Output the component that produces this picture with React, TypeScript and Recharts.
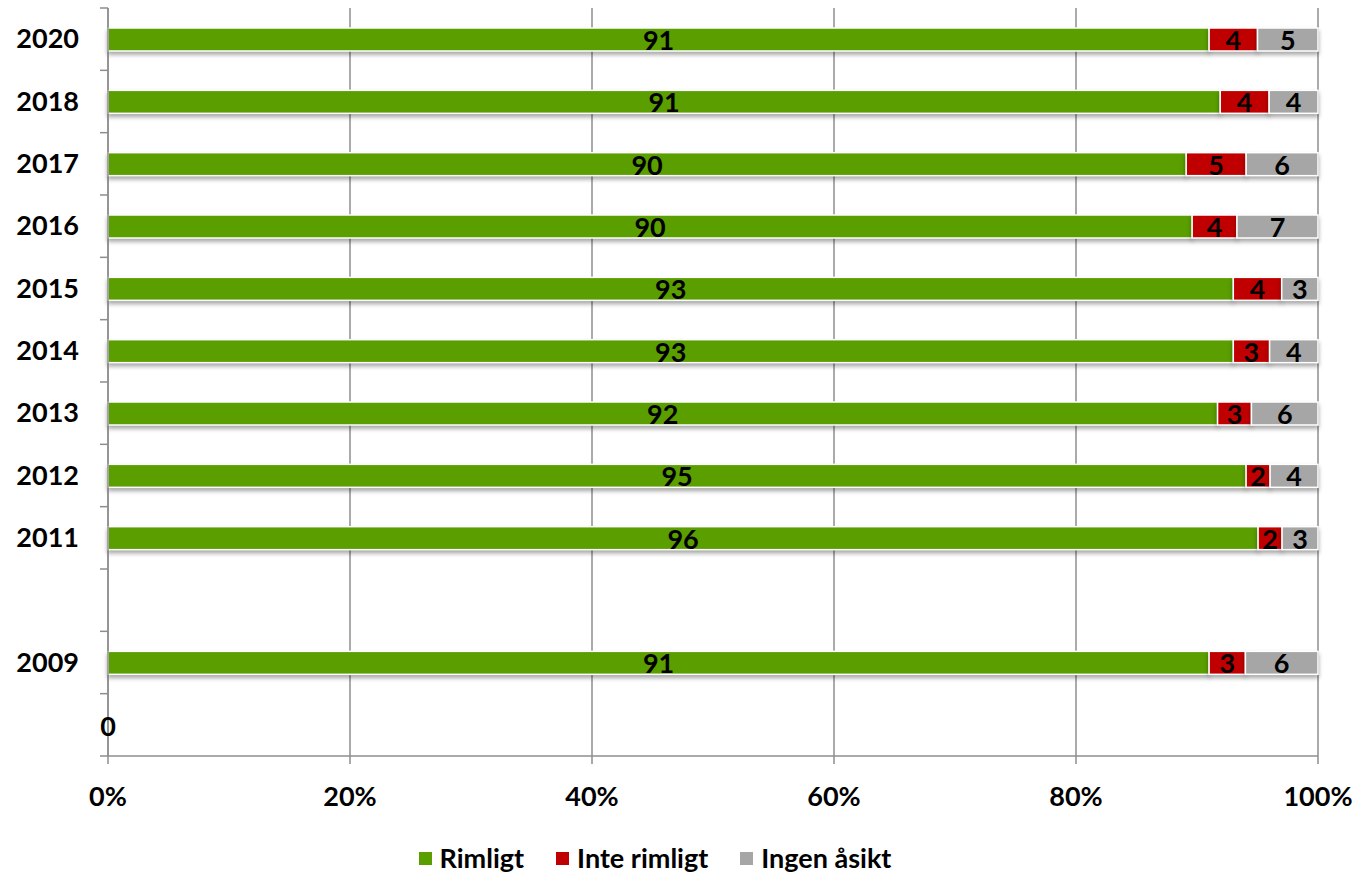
import React from 'react';
import { BarChart, Bar, XAxis, YAxis, CartesianGrid, Legend, LabelList } from 'recharts';

// survey years, top to bottom (blank rows have no data)
const years = ['2020', '2018', '2017', '2016', '2015', '2014', '2013', '2012', '2011', '', '2009', ' '];
const rimligt = [91, 91, 90, 89.6, 93, 93, 91.7, 95, 96, null, 91, 0];
const inteRimligt = [4, 4, 5, 3.7, 4, 3, 2.8, 2, 2, null, 3, null];
const ingenAsikt = [5, 4, 6, 6.7, 3, 4, 5.5, 4, 3, null, 6, null];
const xTicks = [0, 0.2, 0.4, 0.6, 0.8, 1];

const data = years.map((year, i) => ({
  year,
  rimligt: rimligt[i],
  inteRimligt: inteRimligt[i],
  ingenAsikt: ingenAsikt[i],
}));

const FONT = 'Lato, "Open Sans", sans-serif';
const GRAY_LINE = '#8e8e8e';

const series = [
  { key: 'rimligt', name: 'Rimligt', color: '#5a9e00' },
  { key: 'inteRimligt', name: 'Inte rimligt', color: '#c00000' },
  { key: 'ingenAsikt', name: 'Ingen åsikt', color: '#a6a6a6' },
];

const labelFormat = (v: any) => (v == null ? '' : Math.round(Number(v)));

const ShadowBar = (props: any) => {
  const { x, y, width, height, fill } = props;
  if (!width || width <= 0) return null;
  return (
    <rect
      x={x}
      y={y}
      width={width}
      height={height}
      fill={fill}
      stroke='#ffffff'
      strokeWidth={1.5}
      style={{ filter: 'drop-shadow(0px 3px 2px rgba(0,0,0,0.35))' }}
    />
  );
};

// year labels at band centres, tick marks on band boundaries
const YTick = (props: any) => {
  const { x, y, payload, index, visibleTicksCount, height } = props;
  const half = payload?.offset || height / (2 * visibleTicksCount);
  const axisX = x + 21 + 8;
  return (
    <g>
      <line x1={axisX - 8} x2={axisX} y1={y - half} y2={y - half} stroke={GRAY_LINE} strokeWidth={1.5} />
      {index === visibleTicksCount - 1 && (
        <line x1={axisX - 8} x2={axisX} y1={y + half} y2={y + half} stroke={GRAY_LINE} strokeWidth={1.5} />
      )}
      <text x={x} y={y} dy={9} textAnchor='end' fill='#000' fontWeight={700} fontSize={27} fontFamily={FONT}>
        {payload.value}
      </text>
    </g>
  );
};

const LegendContent = () => (
  <div style={{ display: 'flex', justifyContent: 'center', alignItems: 'center', height: 30 }}>
    {series.map((s) => (
      <div key={s.key} style={{ display: 'flex', alignItems: 'center', margin: '0 16px' }}>
        <span style={{ width: 13, height: 13, background: s.color, display: 'inline-block', marginRight: 8 }} />
        <span style={{ fontWeight: 700, fontSize: 27, color: '#000', fontFamily: FONT, lineHeight: '30px' }}>
          {s.name}
        </span>
      </div>
    ))}
  </div>
);

export default function App() {
  return (
    <div style={{ position: 'absolute', left: 0, top: 0, background: '#fff', fontFamily: FONT }}>
      <BarChart
        width={1357}
        height={874}
        data={data}
        layout='vertical'
        stackOffset='expand'
        margin={{ top: 8, right: 39, left: 0, bottom: 58 }}
      >
        <CartesianGrid horizontal={false} stroke={GRAY_LINE} strokeWidth={1.5} />
        <XAxis
          type='number'
          domain={[0, 1]}
          ticks={xTicks}
          interval={0}
          height={60}
          tickFormatter={(v) => `${Math.round(v * 100)}%`}
          tick={{ fill: '#000', fontWeight: 700, fontSize: 27, fontFamily: FONT }}
          tickSize={8}
          tickMargin={23}
          axisLine={{ stroke: GRAY_LINE, strokeWidth: 1.5 }}
          tickLine={{ stroke: GRAY_LINE, strokeWidth: 1.5 }}
        />
        <YAxis
          type='category'
          dataKey='year'
          width={108}
          interval={0}
          tick={<YTick />}
          tickSize={8}
          tickMargin={21}
          tickLine={false}
          axisLine={{ stroke: GRAY_LINE, strokeWidth: 1.5 }}
        />
        <Legend
          verticalAlign='middle'
          align='center'
          content={<LegendContent />}
          wrapperStyle={{ top: 843, left: 0, width: 1310, height: 30 }}
        />
        {series.map((s) => (
          <Bar
            key={s.key}
            dataKey={s.key}
            name={s.name}
            stackId='a'
            fill={s.color}
            barSize={23}
            isAnimationActive={false}
            shape={<ShadowBar />}
          >
            <LabelList
              dataKey={s.key}
              position='center'
              formatter={labelFormat}
              fill='#000'
              fontWeight={700}
              fontSize={27}
              fontFamily={FONT}
              dy={1}
            />
          </Bar>
        ))}
      </BarChart>
    </div>
  );
}
